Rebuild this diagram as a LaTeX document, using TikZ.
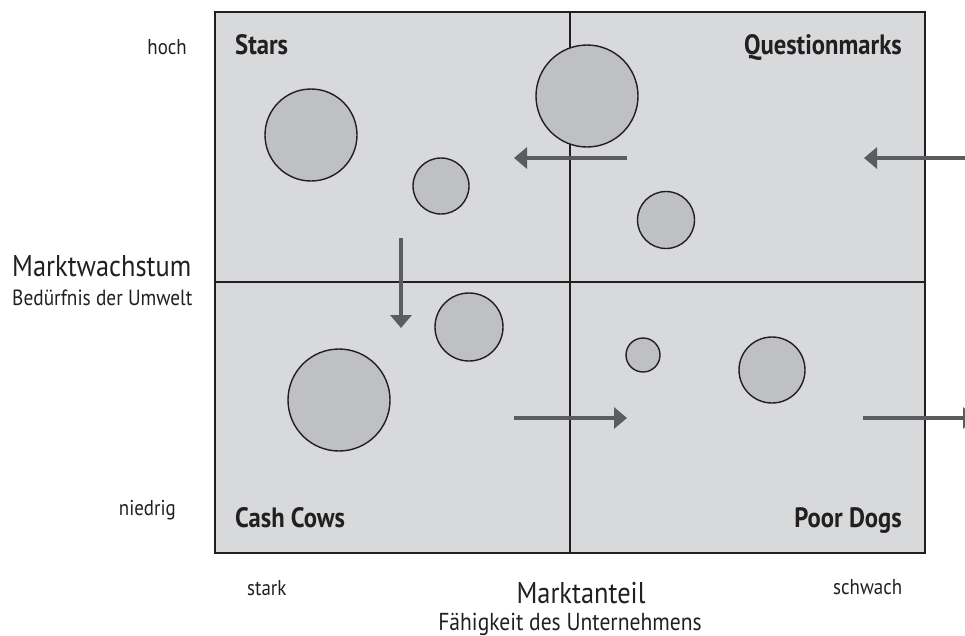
\documentclass[tikz,border=0pt]{standalone}
\usepackage{fontspec}
\setmainfont{PT Sans}[FakeStretch=0.88]
\usetikzlibrary{arrows.meta}
\definecolor{fieldgray}{HTML}{D8D9DB}
\definecolor{bubblegray}{HTML}{BFC0C2}
\definecolor{arrowgray}{HTML}{5B5C5E}
\definecolor{inkblack}{HTML}{231F20}
\begin{document}
\begin{tikzpicture}[x=1pt,y=-1pt,
  quadlabel/.style={font=\bfseries\fontsize{28}{33}\selectfont, text=inkblack, inner sep=0pt},
  axistitle/.style={font=\fontsize{30}{36}\selectfont, text=inkblack, inner sep=0pt},
  axissub/.style={font=\fontsize{22}{26}\selectfont, text=inkblack, inner sep=0pt},
  axisend/.style={font=\fontsize{21.5}{26}\selectfont, text=inkblack, inner sep=0pt},
  bubble/.style={circle, draw=inkblack, line width=1.4pt, fill=bubblegray, inner sep=0pt, minimum size=#1},
  movearrow/.style={draw=arrowgray, line width=4.5pt, -{Triangle[length=13pt,width=21pt]}},
  gridline/.style={draw=inkblack, line width=1.3pt}
]
\useasboundingbox (0,0) rectangle (965,635);
\clip (0,0) rectangle (965,635);

% portfolio field with its four quadrants
\fill[fieldgray] (215,12) rectangle (925,553);
\draw[gridline] (570,12) -- (570,553);
\draw[gridline] (215,282) -- (925,282);
\draw[gridline] (215,12) rectangle (925,553);

% quadrant names
\node[quadlabel, anchor=base west] (stars) at (235,54) {Stars};
\node[quadlabel, anchor=base east] (qmarks) at (902,54) {Questionmarks};
\node[quadlabel, anchor=base west] (cows) at (235,527) {Cash Cows};
\node[quadlabel, anchor=base east] (dogs) at (902,527) {Poor Dogs};

% business units
\node[bubble=92pt] (u1) at (311,135) {};
\node[bubble=56pt] (u2) at (441,186) {};
\node[bubble=102pt] (u3) at (587,96) {};
\node[bubble=57pt] (u4) at (666,220) {};
\node[bubble=68pt] (u5) at (469,327) {};
\node[bubble=102pt] (u6) at (339,400) {};
\node[bubble=34pt] (u7) at (643,355) {};
\node[bubble=66pt] (u8) at (772,370) {};

% movement directions
\coordinate (a1s) at (627,158);  \coordinate (a1e) at (514,158);
\coordinate (a2s) at (985,158);  \coordinate (a2e) at (864,158);
\coordinate (a3s) at (401,238);  \coordinate (a3e) at (401,328);
\coordinate (a4s) at (514,418);  \coordinate (a4e) at (627,418);
\coordinate (a5s) at (863,418);  \coordinate (a5e) at (976,418);
\draw[movearrow] (a1s) -- (a1e);
\draw[movearrow] (a2s) -- (a2e);
\draw[movearrow] (a3s) -- (a3e);
\draw[movearrow] (a4s) -- (a4e);
\draw[movearrow] (a5s) -- (a5e);

% vertical axis
\node[axisend, anchor=base east] (high) at (187,54) {hoch};
\node[axisend, anchor=base east] (low) at (176,515) {niedrig};
\node[axistitle, anchor=base west] (ytitle) at (12,276) {Marktwachstum};
\node[axissub, anchor=base west] (ysub) at (12,305) {Bedürfnis der Umwelt};

% horizontal axis
\node[axisend, anchor=base west] (strong) at (247,595) {stark};
\node[axisend, anchor=base west] (weak) at (833,594) {schwach};
\node[axistitle, anchor=base] (xtitle) at (581,603) {Marktanteil};
\node[axissub, font=\fontsize{24.5}{29}\selectfont, anchor=base] (xsub) at (570,630) {Fähigkeit des Unternehmens};
\end{tikzpicture}
\end{document}
